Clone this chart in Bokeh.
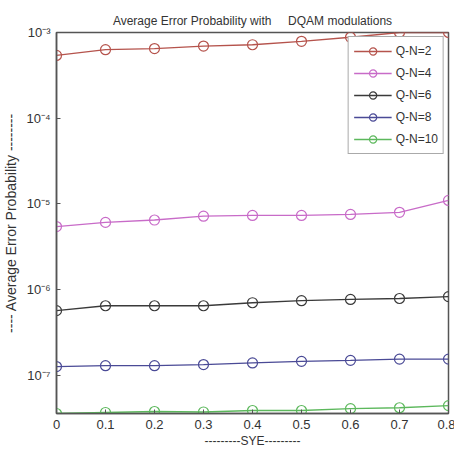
from bokeh.plotting import figure
from bokeh.models import FixedTicker, CustomJSTickFormatter, Range1d, Legend
from bokeh.embed import file_html
from bokeh.resources import INLINE

sye = [0.0, 0.1, 0.2, 0.3, 0.4, 0.5, 0.6, 0.7, 0.8]
qn2 = [5.4e-4, 6.3e-4, 6.5e-4, 6.95e-4, 7.2e-4, 7.9e-4, 8.8e-4, 1.0e-3, 1.0e-3]
qn4 = [5.45e-6, 6.1e-6, 6.5e-6, 7.2e-6, 7.35e-6, 7.35e-6, 7.55e-6, 8.0e-6, 1.1e-5]
qn6 = [5.7e-7, 6.5e-7, 6.5e-7, 6.5e-7, 7.05e-7, 7.45e-7, 7.7e-7, 7.9e-7, 8.3e-7]
qn8 = [1.27e-7, 1.3e-7, 1.3e-7, 1.34e-7, 1.4e-7, 1.46e-7, 1.5e-7, 1.55e-7, 1.55e-7]
qn10 = [3.6e-8, 3.7e-8, 3.8e-8, 3.75e-8, 3.9e-8, 3.9e-8, 4.1e-8, 4.2e-8, 4.45e-8]
labels = ["Q-N=2", "Q-N=4", "Q-N=6", "Q-N=8", "Q-N=10"]
colors = ["#b5534c", "#c86bc8", "#3a3a3a", "#4a4a96", "#5cb85c"]
x_ticks = [0.0, 0.1, 0.2, 0.3, 0.4, 0.5, 0.6, 0.7, 0.8]
y_ticks = [1e-7, 1e-6, 1e-5, 1e-4, 1e-3]

FONT = "Liberation Sans"

p = figure(width=455, height=453, y_axis_type="log",
           x_range=Range1d(0, 0.8), y_range=Range1d(3.6e-8, 1e-3),
           output_backend="svg", toolbar_location=None,
           min_border_left=53, min_border_right=7, min_border_top=32,
           min_border_bottom=40,
           title="Average Error Probability with\u00a0\u00a0\u00a0\u00a0 DQAM modulations")
p.title.align = "center"
p.title.text_font = FONT
p.title.text_font_size = "12px"
p.title.text_font_style = "normal"
p.title.text_color = "#333333"
p.grid.visible = False
p.outline_line_color = "#555555"
p.outline_line_width = 1.5

fmt = CustomJSTickFormatter(code="""
const e = Math.round(Math.log10(tick));
const sup = {'-':'\\u207b','0':'\\u2070','1':'\\u00b9','2':'\\u00b2','3':'\\u00b3','4':'\\u2074','5':'\\u2075','6':'\\u2076','7':'\\u2077','8':'\\u2078','9':'\\u2079'};
return '10' + String(e).split('').map(c => sup[c]).join('');
""")

p.yaxis.ticker = FixedTicker(ticks=y_ticks)
p.yaxis.formatter = fmt
p.xaxis.ticker = FixedTicker(ticks=x_ticks)
p.xaxis.axis_label = "---------SYE---------"
p.yaxis.axis_label = "---- Average Error Probability --------"
for ax in (p.xaxis[0], p.yaxis[0]):
    ax.major_tick_in = 4
    ax.major_tick_out = 0
    ax.minor_tick_line_color = None
    ax.axis_line_color = "#555555"
    ax.axis_line_width = 1.5
    ax.major_tick_line_color = "#555555"
    ax.major_label_text_font = FONT
    ax.major_label_text_font_size = "13px"
    ax.major_label_text_color = "#333333"
    ax.axis_label_text_font = FONT
    ax.axis_label_text_font_style = "normal"
    ax.axis_label_text_color = "#333333"
p.xaxis.axis_label_text_font_size = "12px"
p.yaxis.axis_label_text_font_size = "14px"
p.xaxis.major_label_standoff = 6
p.xaxis.axis_label_standoff = 2
p.yaxis.major_label_standoff = 6
p.yaxis.axis_label_standoff = 4

items = []
for ys, lab, col in zip([qn2, qn4, qn6, qn8, qn10], labels, colors):
    l = p.line(sye, ys, line_color=col, line_width=1.3)
    s = p.scatter(sye, ys, marker="circle", size=10, fill_color=None,
                  line_color=col, line_width=1.2)
    items.append((lab, [l, s]))

legend = Legend(items=items, location="top_right")
legend.margin = 4
legend.padding = 5
legend.spacing = 4
legend.glyph_width = 38
legend.glyph_height = 18
legend.label_height = 18
legend.label_standoff = 4
legend.label_text_font = FONT
legend.label_text_font_size = "12px"
legend.label_text_color = "#333333"
legend.border_line_color = "#555555"
legend.border_line_width = 1.2
legend.background_fill_alpha = 1.0
p.add_layout(legend)

open("out.html", "w").write(file_html(p, INLINE))
